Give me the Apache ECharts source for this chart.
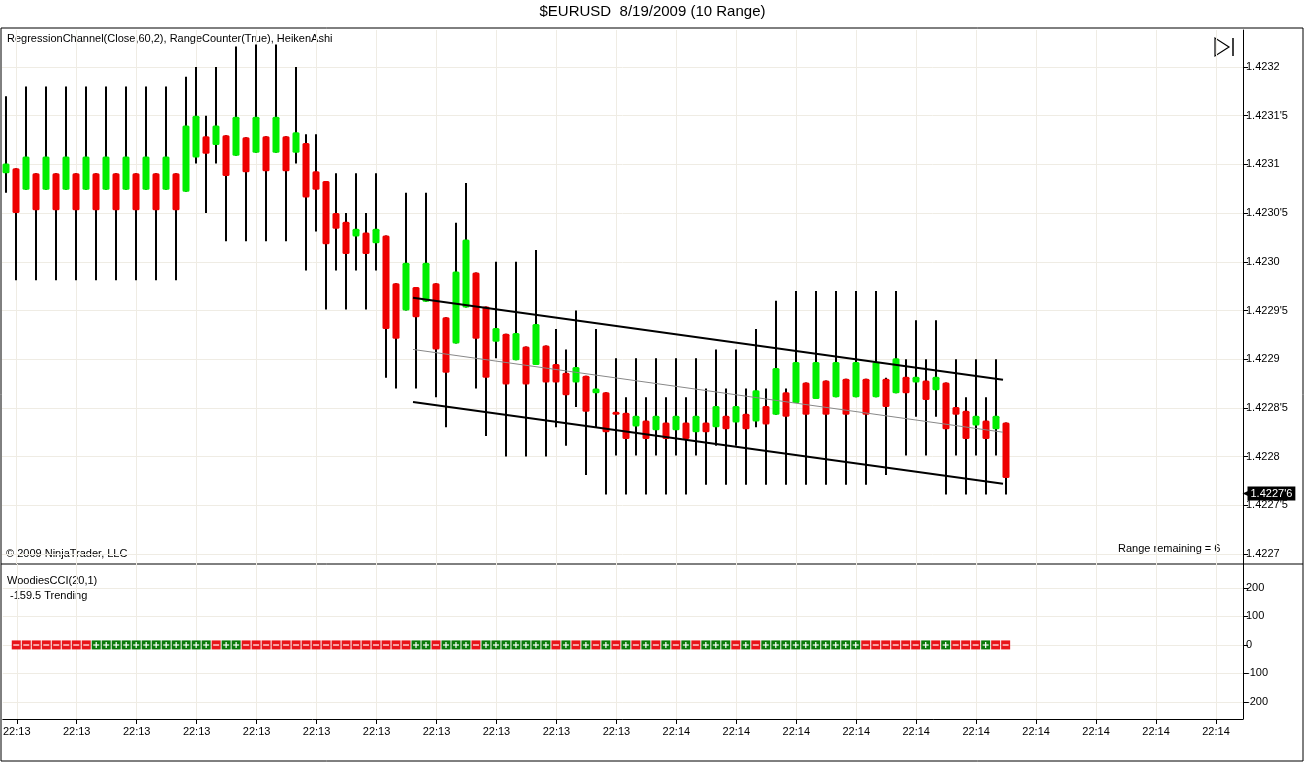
<!DOCTYPE html>
<html><head><meta charset="utf-8">
<script src="https://cdn.jsdelivr.net/npm/echarts@6/dist/echarts.min.js"></script>
<style>html,body{margin:0;padding:0;background:#fff}#c{width:1305px;height:763px}</style>
</head><body><div id="c"></div>
<script>
const opens=[1.423091,1.423096,1.423074,1.423091,1.423074,1.423091,1.423074,1.423091,1.423074,1.423091,1.423074,1.423091,1.423074,1.423091,1.423074,1.423091,1.423074,1.423091,
1.423072,1.423107,1.423129,1.423120,1.423130,1.423109,1.423128,1.423112,1.423129,1.423112,1.423129,1.423112,1.423122,1.423093,1.423083,1.423050,1.423041,1.423026,1.423030,1.423019,1.423027,
1.422978,1.422950,1.422974,1.422959,1.422978,1.422943,1.422916,1.422953,1.422989,1.422954,1.422918,1.422926,1.422899,1.422913,1.422894,1.422914,1.422895,1.422886,1.422876,1.422883,1.422865,
1.422866,1.422846,1.422845,1.422831,1.422837,1.422827,1.422835,1.422827,1.422835,1.422825,1.422835,1.422830,1.422842,1.422835,1.422844,1.422836,1.422852,1.422843,1.422866,1.422855,
1.422876,1.422859,1.422878,1.422861,1.422880,1.422861,1.422880,1.422861,1.422880,1.422865,1.422882,1.422876,1.422878,1.422868,1.422876,1.422851,1.422847,1.422832,1.422837,1.422828,1.422835];
const closes=[1.423101,1.423050,1.423108,1.423053,1.423108,1.423053,1.423108,1.423053,1.423108,1.423053,1.423108,1.423053,1.423108,1.423053,1.423108,1.423053,1.423108,1.423053,
1.423140,1.423150,1.423111,1.423140,1.423088,1.423149,1.423092,1.423149,1.423093,1.423149,1.423093,1.423133,1.423066,1.423074,1.423018,1.423034,1.423008,1.423034,1.423008,1.423034,1.422931,
1.422921,1.422999,1.422943,1.422999,1.422910,1.422886,1.422990,1.423023,1.422921,1.422881,1.422932,1.422874,1.422927,1.422874,1.422936,1.422876,1.422876,1.422863,1.422892,1.422846,1.422870,
1.422825,1.422843,1.422818,1.422842,1.422818,1.422842,1.422818,1.422842,1.422818,1.422842,1.422825,1.422852,1.422828,1.422852,1.422828,1.422868,1.422833,1.422891,1.422841,1.422897,
1.422843,1.422897,1.422843,1.422897,1.422843,1.422897,1.422843,1.422897,1.422851,1.422901,1.422865,1.422882,1.422858,1.422882,1.422828,1.422843,1.422818,1.422842,1.422818,1.422842,1.422778];
const lows=[1.423071,1.422981,1.423074,1.422981,1.423074,1.422981,1.423074,1.422981,1.423074,1.422981,1.423074,1.422981,1.423074,1.422981,1.423074,1.422981,1.423074,1.422981,
1.423072,1.423101,1.423050,1.423101,1.423021,1.423109,1.423021,1.423112,1.423021,1.423112,1.423021,1.423101,1.422991,1.423031,1.422951,1.422991,1.422951,1.422991,1.422951,1.422991,1.422881,
1.422870,1.422950,1.422870,1.422959,1.422861,1.422830,1.422916,1.422953,1.422870,1.422821,1.422901,1.422800,1.422899,1.422800,1.422894,1.422800,1.422830,1.422811,1.422851,1.422781,1.422830,
1.422761,1.422801,1.422761,1.422801,1.422761,1.422801,1.422761,1.422801,1.422761,1.422801,1.422771,1.422811,1.422771,1.422811,1.422771,1.422830,1.422771,1.422843,1.422771,1.422855,
1.422771,1.422859,1.422771,1.422861,1.422771,1.422861,1.422771,1.422861,1.422781,1.422865,1.422801,1.422841,1.422801,1.422841,1.422761,1.422801,1.422761,1.422801,1.422761,1.422801,1.422761];
const highs=[1.423170,1.423096,1.423180,1.423091,1.423180,1.423091,1.423180,1.423091,1.423180,1.423091,1.423180,1.423091,1.423180,1.423091,1.423180,1.423091,1.423180,1.423091,
1.423190,1.423200,1.423150,1.423200,1.423130,1.423221,1.423128,1.423223,1.423129,1.423223,1.423129,1.423200,1.423131,1.423131,1.423083,1.423091,1.423050,1.423091,1.423050,1.423091,1.423027,
1.422978,1.423071,1.422974,1.423071,1.422978,1.422943,1.423040,1.423081,1.422989,1.422954,1.423000,1.422926,1.423000,1.422913,1.423012,1.422914,1.422931,1.422910,1.422950,1.422883,1.422931,
1.422866,1.422901,1.422861,1.422901,1.422861,1.422901,1.422861,1.422901,1.422861,1.422901,1.422870,1.422910,1.422870,1.422910,1.422870,1.422931,1.422870,1.422960,1.422870,1.422970,
1.422876,1.422970,1.422878,1.422970,1.422880,1.422970,1.422880,1.422970,1.422881,1.422970,1.422900,1.422940,1.422900,1.422940,1.422876,1.422900,1.422861,1.422900,1.422861,1.422900,1.422835];
const cciSigns="--------++++++++++++-++-----------------++-+++-+++++++-+-+-+-+-+-+-+-+++-+-++++++++++------+-+---+--".split("");
const chanX=[40.7,99.7];
const chanUpper=[1.422963,1.422879];
const chanMid=[1.422910,1.422825];
const chanLower=[1.422856,1.422772];
const lastPrice=1.422762;
const priceTicks=[1.4227,1.42275,1.4228,1.42285,1.4229,1.42295,1.4230,1.42305,1.4231,1.42315,1.4232];
const cciTicks=[-200,-100,0,100,200];
const timeTickPos=[1,7,13,19,25,31,37,43,49,55,61,67,73,79,85,91,97,103,109,115,121];
const timeLabels=["22:13","22:13","22:13","22:13","22:13","22:13","22:13","22:13","22:13","22:13","22:13","22:14","22:14","22:14","22:14","22:14","22:14","22:14","22:14","22:14","22:14"];

function fmtPrice(v){const n=Math.round(v*100000);const s=String(n);const last=s.slice(5);return "1."+s.slice(1,5)+(last!=="0"?"'"+last:"");}
const F="Liberation Sans, Arial, sans-serif";
const grid0="#efece4";
const XMAX=123.7;
const chart=echarts.init(document.getElementById('c'));
const xBase={type:'value',min:-0.4,max:XMAX,axisLine:{show:false,onZero:false},axisTick:{show:false,customValues:timeTickPos},
  axisLabel:{show:false,customValues:timeTickPos},splitLine:{show:true,lineStyle:{color:grid0}}};
chart.setOption({
  animation:false,
  textStyle:{fontFamily:F},
  grid:[{left:2,right:62,top:30,height:534},{left:2,right:62,top:564,height:155}],
  xAxis:[Object.assign({gridIndex:0},xBase),
    Object.assign({},xBase,{gridIndex:1,axisLine:{show:true,onZero:false,lineStyle:{color:'#000'}},
      axisTick:{show:true,customValues:timeTickPos,length:5,lineStyle:{color:'#000'}},
      axisLabel:{show:true,customValues:timeTickPos,color:'#000',fontSize:11,fontFamily:F,margin:7,
        formatter:v=>timeLabels[Math.round((v-1)/6)]}})],
  yAxis:[{gridIndex:0,type:'value',position:'right',min:1.4226897,max:1.423238,
     axisLine:{show:true,onZero:false,lineStyle:{color:'#000'}},
     axisTick:{show:true,customValues:priceTicks,length:5,inside:false,lineStyle:{color:'#000'}},
     axisLabel:{customValues:priceTicks,formatter:fmtPrice,color:'#000',fontSize:11,fontFamily:F,margin:3},
     splitLine:{show:true,lineStyle:{color:grid0}}},
    {gridIndex:1,type:'value',position:'right',min:-260,max:284,
     axisLine:{show:true,onZero:false,lineStyle:{color:'#000'}},
     axisTick:{show:true,customValues:cciTicks,length:5,lineStyle:{color:'#000'}},
     axisLabel:{customValues:cciTicks,color:'#000',fontSize:11,fontFamily:F,margin:3},
     splitLine:{show:true,lineStyle:{color:grid0}}}],
  series:[
    {type:'custom',xAxisIndex:0,yAxisIndex:0,
     data:opens.map((o,i)=>[i,o,closes[i],lows[i],highs[i]]),
     encode:{x:0,y:[1,2,3,4]},
     renderItem:function(p,api){
       const i=api.value(0),o=api.value(1),c=api.value(2),l=api.value(3),h=api.value(4);
       const pO=api.coord([i,o]),pC=api.coord([i,c]),pL=api.coord([i,l]),pH=api.coord([i,h]);
       const top=Math.min(pO[1],pC[1]),hh=Math.max(Math.abs(pO[1]-pC[1]),3);
       return {type:'group',children:[
         {type:'line',shape:{x1:pL[0],y1:pL[1],x2:pH[0],y2:pH[1]},style:{stroke:'#000',lineWidth:2}},
         {type:'rect',shape:{x:pO[0]-3.5,y:top,width:7,height:hh,r:1.5},style:{fill:c>=o?'#00ee00':'#ee0000'}}]};
     }},
    {type:'line',xAxisIndex:0,yAxisIndex:0,data:chanX.map((x,k)=>[x,chanUpper[k]]),symbol:'none',lineStyle:{color:'#000',width:2}},
    {type:'line',xAxisIndex:0,yAxisIndex:0,data:chanX.map((x,k)=>[x,chanLower[k]]),symbol:'none',lineStyle:{color:'#000',width:2}},
    {type:'line',xAxisIndex:0,yAxisIndex:0,data:chanX.map((x,k)=>[x,chanMid[k]]),symbol:'none',lineStyle:{color:'#888',width:1},
     markPoint:{silent:true,symbol:'triangle',symbolSize:[8,9],symbolRotate:90,symbolOffset:[4,0],itemStyle:{color:'#000'},
       data:[{coord:[XMAX,lastPrice]}],
       label:{show:true,position:'right',offset:[-9,0],formatter:()=>fmtPrice(1.42276),color:'#fff',backgroundColor:'#000',padding:[2,3,1,3],fontSize:11,fontFamily:F}}},
    {type:'custom',xAxisIndex:1,yAxisIndex:1,
     data:cciSigns.map((s,k)=>[k+1,0,s==='+'?1:-1]),
     encode:{x:0,y:1},
     renderItem:function(p,api){
       const pt=api.coord([api.value(0),api.value(1)]);const up=api.value(2)>0;
       const x=pt[0]-5,y=pt[1]-4.5;
       const ch=[{type:'rect',shape:{x:x,y:y,width:9,height:9},style:{fill:up?'#0a7a0a':'#e8141a'}},
         {type:'rect',shape:{x:x+1.5,y:y+4,width:6,height:1.2},style:{fill:'#fff'}}];
       if(up)ch.push({type:'rect',shape:{x:x+3.9,y:y+1.5,width:1.2,height:6},style:{fill:'#fff'}});
       return {type:'group',children:ch};
     }}
  ],
  graphic:[
    {type:'rect',shape:{x:1,y:28,width:1302,height:733},style:{fill:'none',stroke:'#000',lineWidth:1},silent:true},
    {type:'line',shape:{x1:1,y1:564,x2:1303,y2:564},style:{stroke:'#000',lineWidth:1}},
    {type:'text',left:'center',top:4,style:{text:'$EURUSD  8/19/2009 (10 Range)',font:'15px '+F,fill:'#000'}},
    {type:'text',left:7,top:33,style:{text:'RegressionChannel(Close,60,2), RangeCounter(True), HeikenAshi',font:'11px '+F,fill:'#000'}},
    {type:'text',left:6,top:548,style:{text:'© 2009 NinjaTrader, LLC',font:'11px '+F,fill:'#000'}},
    {type:'text',left:1118,top:543,style:{text:'Range remaining = 6',font:'11px '+F,fill:'#000'}},
    {type:'text',left:7,top:575,style:{text:'WoodiesCCI(20,1)',font:'11px '+F,fill:'#000'}},
    {type:'text',left:10,top:590,style:{text:'-159.5 Trending',font:'11px '+F,fill:'#000'}},
    {type:'polygon',shape:{points:[[1215,38],[1215,56],[1229,47]]},style:{fill:'none',stroke:'#000',lineWidth:1.2}},
    {type:'line',shape:{x1:1233,y1:38,x2:1233,y2:56},style:{stroke:'#000',lineWidth:1.5}}
  ]
});
</script></body></html>
